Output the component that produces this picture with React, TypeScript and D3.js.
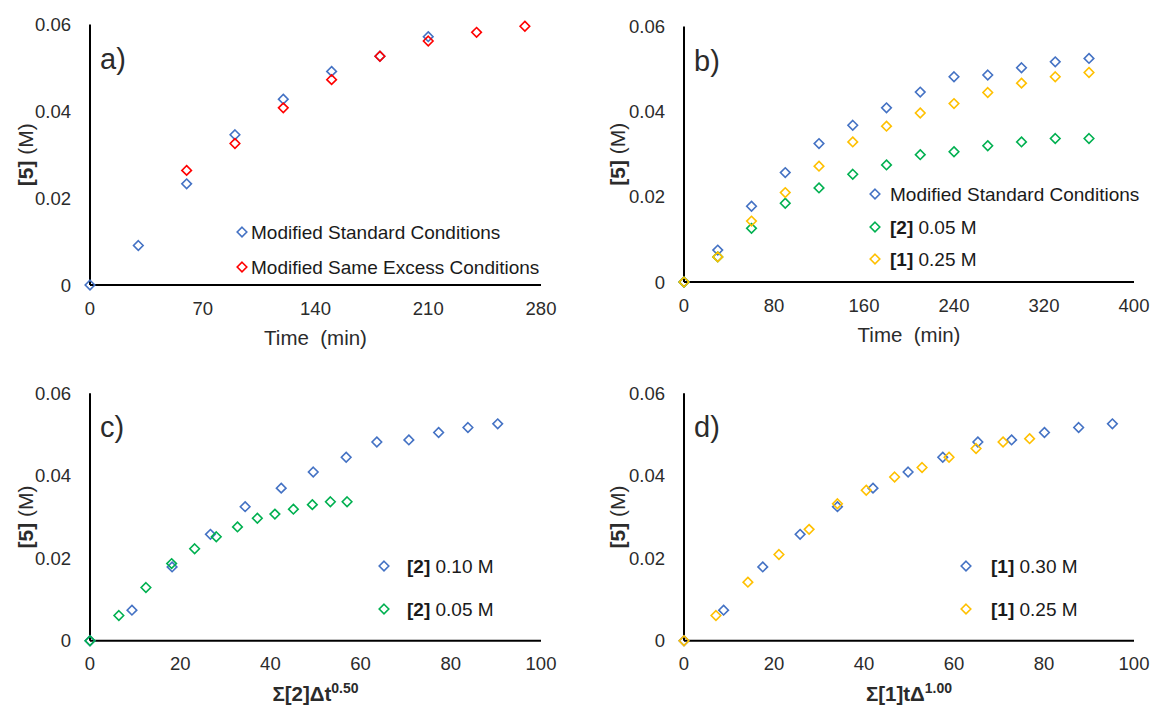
import React from "react";
import * as d3 from "d3";

// ---------- DATA ----------
// Panel a
const aStdTime = [0, 30, 60, 90, 120, 150, 180, 210];
const aStdConc = [0, 0.0091, 0.0233, 0.0346, 0.0428, 0.0492, 0.0527, 0.0572];
const aSameTime = [60, 90, 120, 150, 180, 210, 240, 270];
const aSameConc = [0.0264, 0.0326, 0.0408, 0.0473, 0.0527, 0.0562, 0.0582, 0.0596];
const aXTicks = [0, 70, 140, 210, 280];

// Panel b
const bTime = [0, 30, 60, 90, 120, 150, 180, 210, 240, 270, 300, 330, 360];
const bStdConc = [0, 0.0075, 0.0178, 0.0257, 0.0325, 0.0368, 0.0409, 0.0446, 0.0482, 0.0486, 0.0503, 0.0517, 0.0525];
const bLow2Conc = [0, 0.0059, 0.0126, 0.0185, 0.0221, 0.0253, 0.0275, 0.0299, 0.0306, 0.032, 0.0329, 0.0337, 0.0337];
const bLow1Conc = [0, 0.0059, 0.0143, 0.021, 0.0272, 0.0329, 0.0366, 0.0397, 0.0419, 0.0445, 0.0467, 0.0482, 0.0492];
const bXTicks = [0, 80, 160, 240, 320, 400];

// Panel c
const c010X = [0, 9.3, 18.2, 26.7, 34.4, 42.4, 49.5, 56.8, 63.6, 70.7, 77.3, 83.8, 90.4];
const c010Y = [0, 0.0074, 0.0179, 0.0258, 0.0325, 0.037, 0.0409, 0.0445, 0.0482, 0.0487, 0.0505, 0.0517, 0.0526];
const c005X = [0, 6.4, 12.4, 18.1, 23.2, 28.0, 32.7, 37.1, 41.0, 45.1, 49.3, 53.3, 57.0];
const c005Y = [0, 0.0061, 0.0129, 0.0187, 0.0223, 0.0252, 0.0276, 0.0297, 0.0307, 0.0319, 0.033, 0.0337, 0.0337];

// Panel d
const d030X = [0, 8.8, 17.5, 25.8, 34.1, 42.0, 49.8, 57.5, 65.3, 72.8, 80.1, 87.7, 95.2];
const d030Y = [0, 0.0074, 0.0179, 0.0258, 0.0325, 0.037, 0.0409, 0.0445, 0.0482, 0.0487, 0.0505, 0.0517, 0.0526];
const d025X = [0, 7.1, 14.2, 21.1, 27.8, 34.1, 40.5, 46.8, 52.9, 58.9, 64.9, 70.9, 76.8];
const d025Y = [0, 0.0061, 0.0142, 0.0209, 0.027, 0.0332, 0.0365, 0.0397, 0.042, 0.0445, 0.0466, 0.0482, 0.049];
const cdXTicks = [0, 20, 40, 60, 80, 100];

const yTicks = [0, 0.02, 0.04, 0.06];

// ---------- STYLE ----------
const BLUE = "#4472C4";
const RED = "#FF0000";
const GREEN = "#00B050";
const ORANGE = "#FFC000";
const FONT = "'Liberation Sans', Arial, sans-serif";
const TXT = "#2b2b2b";

type Series = { xs: number[]; ys: number[]; color: string };
type LegendItem = { color: string; bold?: string; text: string };

const Diamond = ({ x, y, color, r = 4.8 }: { x: number; y: number; color: string; r?: number }) => (
  <path
    d={`M${x},${y - r}L${x + r},${y}L${x},${y + r}L${x - r},${y}Z`}
    fill="none"
    stroke={color}
    strokeWidth={1.6}
  />
);

const fmtY = (v: number) => (v === 0 ? "0" : d3.format(".2f")(v));

function Panel(props: {
  x0: number; x1: number; yTop: number; yBot: number;
  xDomain: [number, number]; xTicks: number[];
  series: Series[]; label: string;
  xLabel: React.ReactNode; yLabelX: number;
  legend: LegendItem[]; legX: number; legYs: number[]; legTextX: number;
}) {
  const { x0, x1, yTop, yBot } = props;
  const xs = d3.scaleLinear().domain(props.xDomain).range([x0, x1]);
  const ys = d3.scaleLinear().domain([0, 0.06]).range([yBot, yTop]);
  const yMid = (yTop + yBot) / 2;
  return (
    <g fontFamily={FONT} fill={TXT}>
      {yTicks.map((t) => (
        <text key={"y" + t} x={x0 - 19} y={ys(t)} dy="0.36em" textAnchor="end" fontSize={18.5}>
          {fmtY(t)}
        </text>
      ))}
      {props.xTicks.map((t) => (
        <text key={"x" + t} x={xs(t)} y={yBot + 23} dy="0.36em" textAnchor="middle" fontSize={18.5}>
          {t}
        </text>
      ))}
      <line x1={x0} x2={x0} y1={yTop} y2={yBot} stroke="#000" strokeWidth={2} />
      <line x1={x0} x2={x1} y1={yBot} y2={yBot} stroke="#000" strokeWidth={2} />
      <text x={(x0 + x1) / 2} y={yBot + 53} dy="0.36em" textAnchor="middle" fontSize={20.5}>
        {props.xLabel}
      </text>
      <text
        transform={`translate(${props.yLabelX},${yMid}) rotate(-90)`}
        textAnchor="middle"
        dy="0.36em"
        fontSize={21}
      >
        <tspan fontWeight="bold">[5]</tspan>
        <tspan> (M)</tspan>
      </text>
      <text x={x0 + 10} y={yTop + 44} fontSize={29}>
        {props.label}
      </text>
      {props.series.map((s, si) =>
        s.xs.map((xv, i) => (
          <Diamond key={si + "-" + i} x={xs(xv)} y={ys(s.ys[i])} color={s.color} />
        ))
      )}
      {props.legend.map((l, i) => (
        <g key={"l" + i}>
          <Diamond x={props.legX} y={props.legYs[i]} color={l.color} />
          <text x={props.legTextX} y={props.legYs[i]} dy="0.36em" fontSize={19} fill="#1a1a1a">
            {l.bold ? <tspan fontWeight="bold">{l.bold}</tspan> : null}
            <tspan>{l.text}</tspan>
          </text>
        </g>
      ))}
    </g>
  );
}

export default function App() {
  const sup = (base: string, s: string) => (
    <tspan fontWeight="bold">
      {base}
      <tspan fontSize={14} dy={-8}>{s}</tspan>
    </tspan>
  );
  return (
    <svg width={1154} height={706} style={{ position: "absolute", left: 0, top: 0, background: "#fff" }}>
      <rect width={1154} height={706} fill="#fff" />
      <Panel
        x0={90} x1={541} yTop={24.5} yBot={285}
        xDomain={[0, 280]} xTicks={aXTicks}
        series={[
          { xs: aStdTime, ys: aStdConc, color: BLUE },
          { xs: aSameTime, ys: aSameConc, color: RED },
        ]}
        label="a)"
        xLabel={"Time\u00A0 (min)"}
        yLabelX={25}
        legend={[
          { color: BLUE, text: "Modified Standard Conditions" },
          { color: RED, text: "Modified Same Excess Conditions" },
        ]}
        legX={242} legYs={[232, 267]} legTextX={251}
      />
      <Panel
        x0={684} x1={1134} yTop={26.5} yBot={282}
        xDomain={[0, 400]} xTicks={bXTicks}
        series={[
          { xs: bTime, ys: bStdConc, color: BLUE },
          { xs: bTime, ys: bLow2Conc, color: GREEN },
          { xs: bTime, ys: bLow1Conc, color: ORANGE },
        ]}
        label="b)"
        xLabel={"Time\u00A0 (min)"}
        yLabelX={617}
        legend={[
          { color: BLUE, text: "Modified Standard Conditions" },
          { color: GREEN, bold: " [2]", text: " 0.05 M" },
          { color: ORANGE, bold: " [1]", text: " 0.25 M" },
        ]}
        legX={875} legYs={[194, 227, 259]} legTextX={890}
      />
      <Panel
        x0={90} x1={541} yTop={393.3} yBot={640.7}
        xDomain={[0, 100]} xTicks={cdXTicks}
        series={[
          { xs: c010X, ys: c010Y, color: BLUE },
          { xs: c005X, ys: c005Y, color: GREEN },
        ]}
        label="c)"
        xLabel={sup("Σ[2]Δt", "0.50")}
        yLabelX={25}
        legend={[
          { color: BLUE, bold: "[2]", text: " 0.10 M" },
          { color: GREEN, bold: "[2]", text: " 0.05 M" },
        ]}
        legX={384} legYs={[566, 609]} legTextX={407}
      />
      <Panel
        x0={684} x1={1134} yTop={393.3} yBot={640.7}
        xDomain={[0, 100]} xTicks={cdXTicks}
        series={[
          { xs: d030X, ys: d030Y, color: BLUE },
          { xs: d025X, ys: d025Y, color: ORANGE },
        ]}
        label="d)"
        xLabel={sup("Σ[1]tΔ", "1.00")}
        yLabelX={617}
        legend={[
          { color: BLUE, bold: "[1]", text: " 0.30 M" },
          { color: ORANGE, bold: "[1]", text: " 0.25 M" },
        ]}
        legX={966} legYs={[566, 609]} legTextX={991}
      />
    </svg>
  );
}
